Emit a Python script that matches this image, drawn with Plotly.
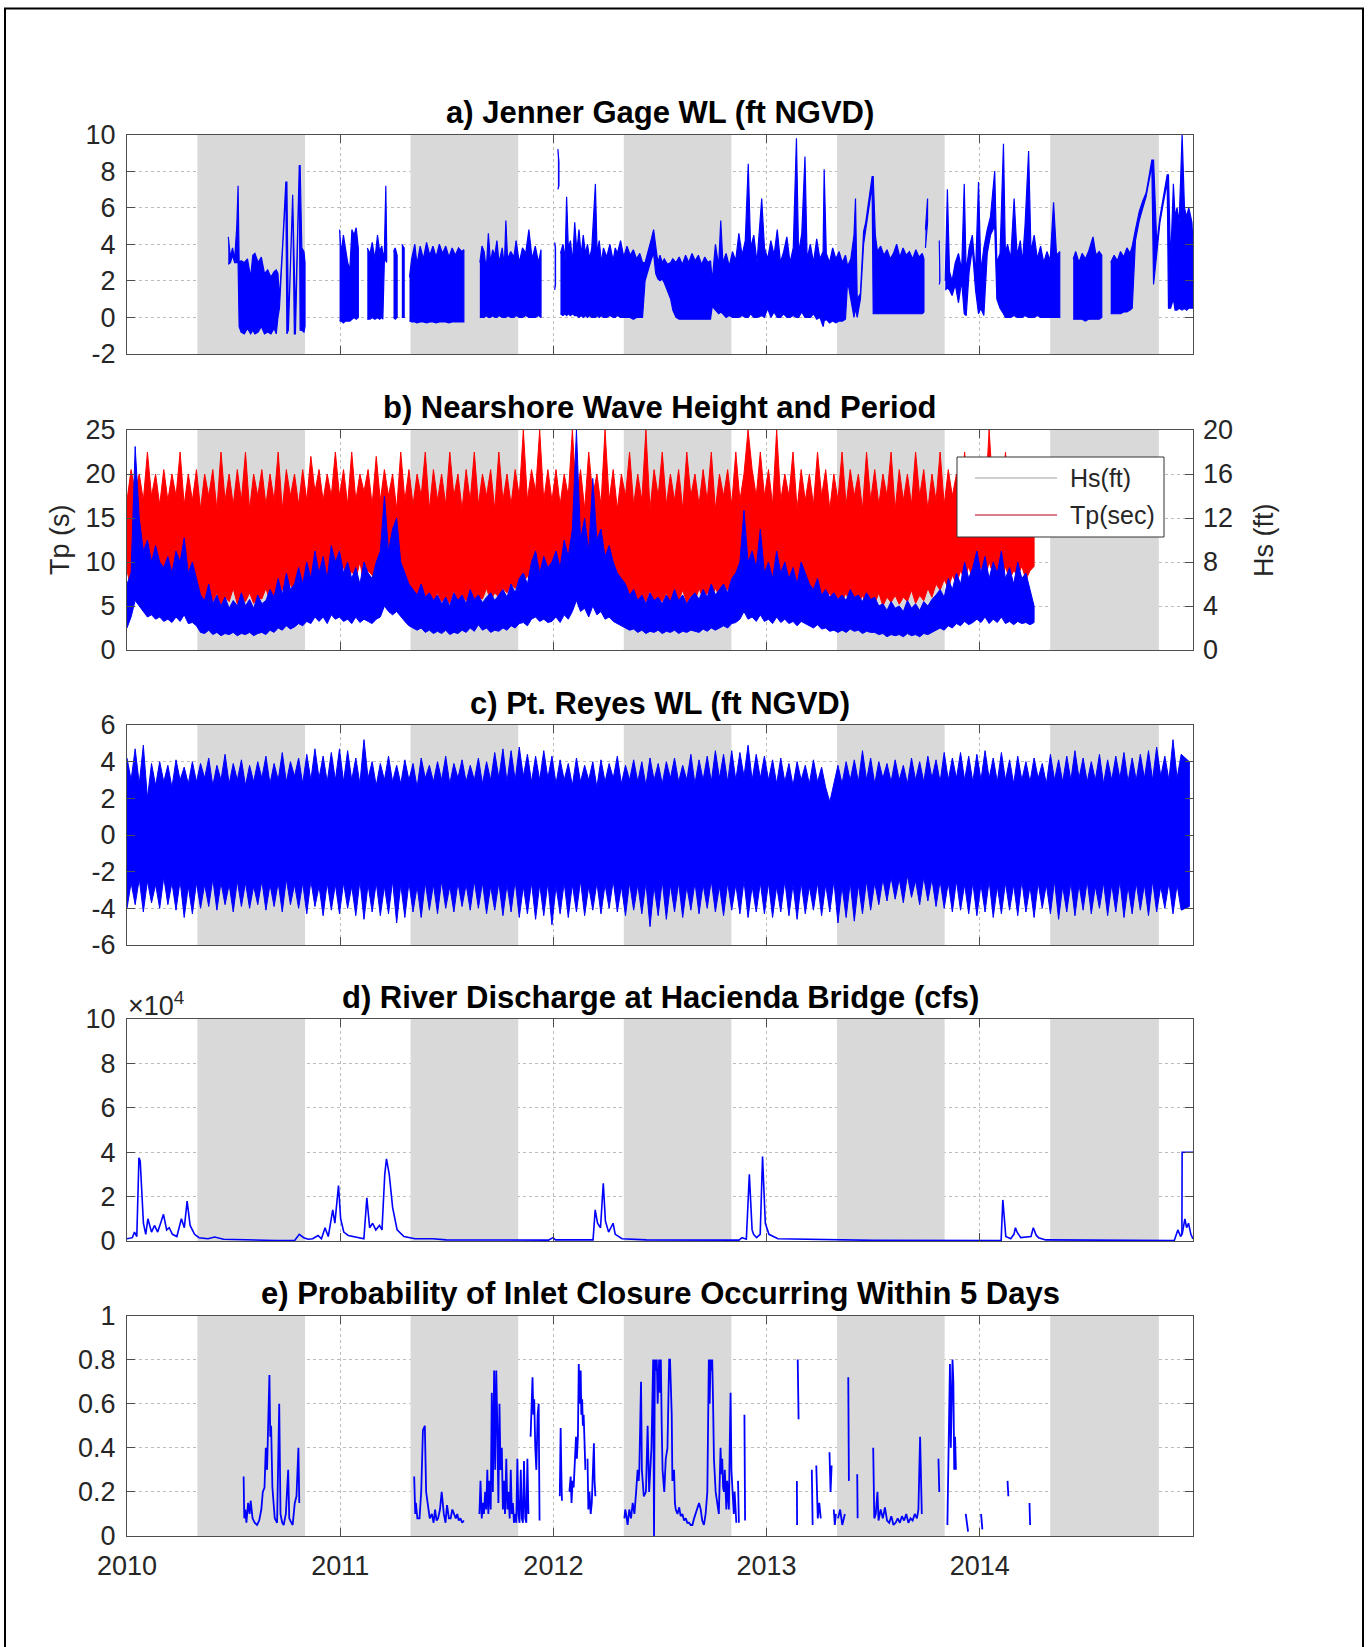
import plotly.graph_objects as go

# ======================= DATA =======================
YEAR_TICKS = [2010, 2011, 2012, 2013, 2014]
YEAR_LABELS = ["2010", "2011", "2012", "2013", "2014"]
DRY_START = [2010.33, 2011.33, 2012.33, 2013.33, 2014.33]
DRY_END = [2010.835, 2011.835, 2012.835, 2013.835, 2014.84]

# a) Jenner gage water level: (decimal year, upper, lower), None = data gap
JENNER_2010 = [
    (2010.475, 4.4, 2.9), (2010.485, 3.3, 3.0), (2010.495, 3.8, 3.4), (2010.505, 3.2, 3.0),
    (2010.515, 5.0, 3.0), (2010.521, 7.2, 3.0), (2010.526, 3.0, -0.5), (2010.535, 3.1, -0.8),
    (2010.550, 3.0, -0.9), (2010.565, 3.2, -0.6), (2010.580, 2.2, -0.9), (2010.590, 3.4, -0.7),
    (2010.600, 3.5, -0.9), (2010.615, 3.0, -0.8), (2010.630, 3.3, -0.5), (2010.645, 2.4, -0.9),
    (2010.660, 2.6, -0.8), (2010.675, 2.2, -0.9), (2010.690, 2.5, -0.6), (2010.700, 2.6, -0.9),
    (2010.708, 2.4, 0.0), (2010.715, 1.0, 0.5), (2010.730, 4.0, 3.8), (2010.745, 7.4, 7.0),
    (2010.750, 7.4, -0.9), (2010.757, -0.5, -0.7), (2010.777, 6.7, 6.5), (2010.785, 2.0, -0.9),
    (2010.790, 0.0, -0.9), (2010.808, 8.3, 8.0), (2010.812, 8.3, -0.7), (2010.820, 3.8, -0.7),
    (2010.830, 3.6, -0.8), (2010.835, 3.0, -0.5),
]
JENNER_2011 = [
    (2010.997, 4.8, -0.2), (2011.005, 3.5, -0.2), (2011.015, 4.5, -0.3), (2011.025, 3.6, -0.2),
    (2011.035, 3.0, -0.2), (2011.045, 2.6, -0.2), (2011.055, 4.8, -0.1), (2011.065, 4.5, 0.0),
    (2011.075, 4.9, -0.1), (2011.085, 3.8, 0.0), None,
    (2011.127, 3.8, -0.1), (2011.140, 3.5, -0.1), (2011.150, 4.1, 0.0), (2011.163, 3.2, -0.1),
    (2011.175, 4.5, 0.0), (2011.185, 3.6, -0.1), (2011.195, 3.9, 0.0), (2011.200, 3.5, -0.1),
    (2011.207, 3.5, 3.0), (2011.214, 7.2, 3.2), (2011.218, 3.8, 3.0), None,
    (2011.250, 3.6, 0.0), (2011.258, 3.8, -0.1), (2011.267, 3.4, 0.0), None,
    (2011.289, 4.0, 0.0), (2011.300, 3.8, 0.0), None,
    (2011.325, 2.2, -0.2), (2011.335, 3.2, -0.25), (2011.350, 4.0, -0.25), (2011.360, 2.9, -0.3),
    (2011.375, 3.9, -0.25), (2011.390, 3.2, -0.25), (2011.405, 4.1, -0.3), (2011.420, 3.4, -0.25),
    (2011.435, 3.9, -0.25), (2011.450, 3.3, -0.3), (2011.465, 4.0, -0.25), (2011.480, 3.5, -0.25),
    (2011.495, 3.9, -0.25), (2011.510, 3.3, -0.3), (2011.525, 3.8, -0.25), (2011.540, 3.4, -0.25),
    (2011.555, 3.8, -0.25), (2011.570, 3.6, -0.25), (2011.580, 3.7, -0.25), None,
    (2011.655, 3.0, 0.0), (2011.665, 3.9, 0.0), (2011.675, 3.6, 0.0), (2011.685, 2.6, 0.1),
    (2011.695, 4.6, 0.0), (2011.705, 3.0, 0.0), (2011.715, 3.7, 0.1), (2011.725, 3.4, 0.0),
    (2011.735, 4.2, 0.0), (2011.745, 3.0, 0.1), (2011.760, 3.8, 0.0), (2011.770, 2.8, 0.0),
    (2011.777, 5.3, 0.0), (2011.785, 3.2, 0.1), (2011.800, 3.6, 0.0), (2011.815, 3.3, 0.0),
    (2011.825, 4.2, 0.1), (2011.840, 3.0, 0.0), (2011.855, 3.8, 0.0), (2011.870, 3.5, 0.1),
    (2011.885, 4.8, 0.0), (2011.900, 3.2, 0.0), (2011.915, 3.9, 0.0), (2011.930, 3.0, 0.1),
    (2011.942, 3.7, 0.0), None,
]
JENNER_2012 = [
    (2012.006, 4.1, 1.5), (2012.010, 3.8, 1.8), None,
    (2012.021, 9.2, 7.0), (2012.026, 8.5, 7.2), None,
    (2012.033, 3.5, 0.2), (2012.045, 4.0, 0.1), (2012.055, 3.2, 0.2), (2012.062, 6.6, 0.1),
    (2012.070, 3.8, 0.2), (2012.080, 4.2, 0.1), (2012.090, 3.0, 0.2), (2012.100, 5.2, 0.1),
    (2012.110, 3.6, 0.1), (2012.120, 4.8, 0.0), (2012.130, 3.4, 0.1), (2012.140, 4.5, 0.0),
    (2012.150, 3.5, 0.1), (2012.160, 4.0, 0.0), (2012.170, 3.2, 0.1), (2012.180, 3.8, 0.0),
    (2012.197, 7.3, 0.0), (2012.205, 3.5, 0.1), (2012.215, 4.2, 0.0), (2012.225, 3.0, 0.1),
    (2012.235, 3.8, 0.0), (2012.250, 3.3, 0.0), (2012.265, 4.0, 0.1), (2012.280, 3.1, 0.0),
    (2012.290, 3.8, 0.0), (2012.300, 3.5, 0.1), (2012.315, 4.2, 0.0), (2012.330, 3.3, 0.0),
    (2012.345, 3.9, 0.0), (2012.360, 3.4, 0.0), (2012.375, 3.7, -0.1), (2012.390, 3.2, 0.0),
    (2012.405, 3.5, 0.0), (2012.418, 3.0, 0.0), (2012.430, 3.0, 2.0), (2012.445, 3.6, 2.6),
    (2012.460, 4.3, 3.2), (2012.470, 4.8, 3.5), (2012.480, 3.8, 2.4), (2012.490, 3.0, 2.1),
    (2012.500, 3.4, 2.0), (2012.510, 3.0, 2.1), (2012.520, 3.2, 1.9), (2012.535, 2.9, 1.5),
    (2012.550, 3.0, 1.0), (2012.560, 3.2, 0.4), (2012.575, 3.0, 0.0), (2012.590, 3.3, -0.1),
    (2012.605, 2.9, -0.1), (2012.620, 3.4, -0.1), (2012.635, 3.0, -0.1), (2012.650, 3.5, -0.1),
    (2012.665, 3.1, -0.1), (2012.680, 3.4, -0.1), (2012.695, 2.9, -0.1), (2012.710, 3.3, -0.1),
    (2012.725, 3.0, -0.1), (2012.737, 3.1, -0.1), (2012.745, 2.0, 0.6), (2012.760, 4.0, 0.4),
    (2012.775, 2.8, 0.2), (2012.785, 5.3, 0.3), (2012.795, 3.0, 0.2), (2012.810, 3.5, 0.0),
    (2012.825, 2.8, 0.1), (2012.840, 3.6, 0.0), (2012.855, 3.1, 0.0), (2012.870, 4.6, 0.0),
    (2012.885, 3.4, 0.1), (2012.900, 4.2, 0.0), (2012.914, 8.4, 0.0), (2012.925, 3.8, 0.2),
    (2012.940, 4.5, 0.0), (2012.955, 3.0, 0.0), (2012.977, 6.5, 0.1), (2012.990, 3.8, 0.0),
]
JENNER_2013 = [
    (2013.005, 3.2, 0.5), (2013.020, 4.2, 0.0), (2013.035, 3.4, 0.3), (2013.050, 4.8, 0.0),
    (2013.065, 3.0, 0.0), (2013.080, 3.6, 0.2), (2013.095, 4.4, 0.0), (2013.110, 3.0, 0.0),
    (2013.125, 3.8, 0.1), (2013.140, 9.8, 0.0), (2013.150, 3.5, 0.0), (2013.165, 4.6, 0.3),
    (2013.180, 8.8, 0.0), (2013.190, 3.2, 0.0), (2013.205, 4.0, 0.0), (2013.220, 3.0, 0.2),
    (2013.235, 4.3, -0.1), (2013.250, 3.2, 0.0), (2013.265, 3.6, -0.5), (2013.270, 8.1, -0.2),
    (2013.280, 3.5, -0.1), (2013.295, 3.0, -0.3), (2013.310, 3.8, -0.2), (2013.325, 3.2, -0.3),
    (2013.340, 3.6, -0.2), (2013.355, 3.0, -0.2), (2013.370, 3.4, -0.1), (2013.380, 2.8, 2.0),
    (2013.395, 3.2, 1.0), (2013.410, 4.5, 0.0), (2013.417, 6.5, 0.5), (2013.425, 1.0, 0.0),
    (2013.440, 1.3, 1.0), (2013.455, 4.7, 4.0), (2013.465, 5.2, 4.8), (2013.480, 6.5, 6.0),
    (2013.495, 7.7, 7.2), (2013.500, 7.7, 0.2), (2013.510, 4.5, 0.2), (2013.520, 3.6, 0.2),
    (2013.535, 3.9, 0.2), (2013.550, 3.4, 0.2), (2013.565, 3.7, 0.2), (2013.580, 3.2, 0.2),
    (2013.595, 3.5, 0.2), (2013.610, 4.0, 0.2), (2013.625, 3.3, 0.2), (2013.640, 3.8, 0.2),
    (2013.655, 3.4, 0.2), (2013.670, 3.6, 0.2), (2013.685, 3.2, 0.2), (2013.700, 3.7, 0.2),
    (2013.715, 3.3, 0.2), (2013.730, 3.5, 0.2), (2013.738, 3.2, 0.3), None,
    (2013.745, 4.8, 3.8), (2013.755, 6.5, 5.2), None,
    (2013.810, 4.2, 1.8), (2013.813, 3.0, 2.0), None,
    (2013.838, 2.0, 1.5), (2013.848, 7.0, 1.6), (2013.858, 2.5, 1.5), (2013.870, 2.0, 1.2),
    (2013.885, 3.0, 1.8), (2013.900, 3.5, 0.8), (2013.915, 2.6, 2.0), (2013.927, 7.3, 0.2),
    (2013.936, 2.5, 0.1), (2013.950, 3.8, 2.5), (2013.965, 4.5, 3.8), (2013.980, 2.4, 1.5),
    (2013.994, 7.4, 0.2),
]
JENNER_2014 = [
    (2014.005, 2.5, 0.5), (2014.019, 3.8, 0.1), (2014.035, 4.8, 3.5), (2014.050, 5.5, 4.5),
    (2014.070, 8.0, 5.0), (2014.080, 3.0, 1.0), (2014.095, 3.5, 0.5), (2014.111, 9.5, 0.2),
    (2014.120, 3.5, 0.0), (2014.130, 4.0, 0.0), (2014.145, 3.2, 0.0), (2014.161, 6.5, 0.1),
    (2014.175, 3.4, 0.0), (2014.190, 4.2, 0.0), (2014.200, 3.0, 0.0), (2014.212, 5.0, 0.1),
    (2014.229, 9.1, 0.0), (2014.240, 3.6, 0.0), (2014.255, 4.5, 0.0), (2014.270, 3.2, 0.1),
    (2014.285, 3.9, 0.0), (2014.300, 3.0, 0.0), (2014.315, 3.6, 0.0), (2014.330, 3.1, 0.0),
    (2014.346, 6.3, 0.0), (2014.360, 3.4, 0.0), (2014.375, 3.6, 0.0), None,
    (2014.438, 3.2, -0.1), (2014.450, 3.6, -0.1), (2014.465, 3.0, -0.1), (2014.480, 3.5, -0.1),
    (2014.495, 3.2, -0.2), (2014.510, 3.6, -0.1), (2014.531, 4.4, -0.1), (2014.545, 3.4, -0.1),
    (2014.560, 3.6, -0.1), (2014.572, 3.4, 0.0), None,
    (2014.614, 3.0, 0.2), (2014.630, 3.4, 0.2), (2014.645, 3.1, 0.2), (2014.660, 3.6, 0.2),
    (2014.675, 3.3, 0.3), (2014.690, 3.8, 0.3), (2014.705, 3.5, 0.4), (2014.715, 3.9, 0.5),
    (2014.730, 4.8, 4.2), (2014.748, 5.8, 5.3), (2014.765, 6.4, 6.0), (2014.780, 6.8, 6.6),
    (2014.795, 7.8, 7.5), (2014.807, 8.6, 8.3), (2014.815, 8.6, 1.8), (2014.830, 4.0, 3.5),
    (2014.845, 5.5, 5.2), (2014.860, 6.5, 6.2), (2014.879, 7.8, 7.4), (2014.885, 7.8, 0.5),
    (2014.895, 3.0, 0.5), (2014.908, 7.3, 1.0), (2014.916, 5.5, 0.4), (2014.925, 6.0, 0.4),
    (2014.935, 5.2, 0.5), (2014.949, 10.0, 0.4), (2014.960, 6.0, 0.5), (2014.970, 5.5, 0.4),
    (2014.980, 6.0, 0.5), (2014.995, 5.2, 0.5), (2015.000, 4.0, 0.5),
]

# b) nearshore waves, weekly envelopes from 2010-01-01 (Tp in s, Hs in ft)
TP_HI = [17,20.5,18,20,17,22.5,17.5,20,16.5,20.5,17,20,17.5,22.5,16.5,20,17,20.5,16,20,17.5,20.5,16,22.5,17,20,16.5,20.5,17,22.5,16,20,17.5,20.5,16.5,20,17,22.5,16,20.5,17.5,20,16.5,20.5,17,22,18,20.5,17,20,17.5,22.5,
         17.5,20.5,16.5,22.5,17,20,18,20.5,16.5,22,17,20.5,17.5,20,16,22.5,17,20.5,16.5,20,17.5,22.5,16,20.5,17,20,16.5,22.5,17.5,20,16,20.5,17,22.5,16.5,20,17.5,20.5,16,22.5,17,20,16.5,20.5,17.5,25,17,20.5,18,25,17,20.5,
         17,20.5,16.5,20,17.5,25,17,20.5,16,22.5,17.5,20,16.5,25,17,20.5,16,20,17.5,22.5,16.5,20,17,25,16,20.5,17.5,22.5,16.5,20,17,20.5,16,22.5,17.5,20,16.5,20.5,17,22.5,16,20,17.5,20.5,16.5,22.5,17,20,25,20.5,17.5,22.5,
         17.5,20.5,16.5,25,17,20,17.5,22.5,16,20.5,17,20,16.5,22.5,17.5,20.5,16,20,17,22.5,16.5,20.5,17.5,20,16,22.5,17,20.5,16.5,20,17.5,22.5,16,20.5,17,20,16.5,22.5,17.5,20.5,16,20,17,22.5,16.5,20.5,17.5,20,16,22.5,17,20.5,
         17,20.5,16.5,25,17.5,20,16,22.5,17,20.5,16.5,20,17.5,20.5,17]
TP_LO = [9,7,10,8,9.5,7.5,8,9,7,8.5,6.5,8,7,9,6.5,8,7,6,6,5.5,7,5.5,6.5,5.2,6,5.5,7,5.2,6,5.5,6.5,5.3,6,5.8,7,5.5,6.2,5.6,7,6,7.5,6.5,8,7,8,7,9,7.5,8.5,7,9,8,
         8,9.5,7.5,9,8,10,7.5,9,8.5,7,9,8,9.5,7,8.5,7.5,6.5,7,6,5.5,6.5,5.5,6,5.2,6.5,5.5,6,5.3,6.8,5.5,6.2,5.6,6.5,5.4,6,5.8,7,5.6,6.5,6,7,6.5,7.5,7,8,7.5,8.5,7,9,8,9.5,8,
         8,9,7.5,9.5,8,10,7.5,9,8.5,9.5,8,10,7.5,9,8,7,6.5,7,6,5.5,6.5,5.2,6,5.5,6.8,5.3,6,5.5,6.5,5.2,6,5.6,6.8,5.4,6.2,5.5,7,5.8,6.5,6,7,6.2,7.5,6.8,8,7,8.5,7.5,9,8,9.5,8,
         8,9.5,7.5,9,8,9.5,7.5,8.5,7,8,6.5,7.5,6,7,6,5.5,6.5,5.2,6,5.5,6.5,5,6,5.3,6.2,5,5.8,5.2,6.5,5,6,5.4,6.2,5.2,6,5.5,6.8,5.3,6.2,5.6,7,6,7.5,6.8,8,7,8.5,7.5,9,8,9.5,8,
         8.5,9.5,8,10,8.5,9,7.5,9.5,8,9,8.5,9.5,8,9,9.5]
HS_HI = [6,7,18.5,12,9,10,8,9.5,8,7.5,8.5,7,9,8,10.2,7,8,6.5,5,4.5,6,4.2,5,4,4.8,3.8,4.5,4,5.2,4,4.6,3.8,5,4.2,4.5,5.5,4.8,6.5,5,7,5.5,6,7.5,6,8,6.5,9,7,8.5,6.5,9.5,8,
         9,7,8,6.5,7.5,6,8,7,6.5,8,9,14,9,11,12,8,7,6,5.5,5,6,4.8,5.2,4.5,5,4.2,4.8,4,5.2,4.5,5,4.2,5.5,4.6,5,4.3,4.8,5.2,4.5,5,5.5,4.8,6,5.2,6.5,7,6,8,9,7,8.5,7.5,
         8,9,7.5,10,8.5,11,20,10,12,9,15.6,10,11,8.5,9.5,8,7,6.5,6,5,5.5,4.5,5,4.2,5.2,4.5,4.8,4.2,5,4.4,5.5,4.5,5,4.2,4.8,5.2,4.6,5.5,4.8,6,5,5.5,6,5.2,6.5,7,8,12.7,8,9,7.5,11,
         7,8,6.5,9,7,8,6.5,7.5,6,8,7,6,5.5,6.5,5,5.5,4.8,5.2,4.6,5,4.5,5.5,4.8,5,4.4,5.2,4.6,4.8,4,4.2,3.6,4.4,3.8,4,3.5,4.5,3.8,4.2,3.6,4.4,4,4.6,5,5.5,4.8,6.5,5.5,7,6,8,6.5,7.5,
         9,7,8.5,6.5,8,7,9,6.5,7.5,6,8,6.5,7,5.5,4]
HS_LO = [2,3,4.5,4,3.5,3,3.2,2.8,3,2.6,2.8,2.5,3,2.6,3.2,2.4,2.5,2.2,1.6,1.5,1.8,1.4,1.6,1.3,1.5,1.4,1.6,1.3,1.5,1.4,1.6,1.3,1.5,1.6,1.4,1.8,1.6,2,1.8,2.2,1.9,2.1,2.4,2.2,2.6,2.4,3,2.6,3,2.4,3.2,2.8,
         3,2.6,2.8,2.4,3,2.5,2.8,2.6,2.4,2.8,3,4,3.5,3.2,3.5,3,2.6,2.2,2,1.8,2,1.6,1.8,1.5,1.7,1.5,1.8,1.4,1.6,1.5,1.8,1.6,2,1.7,2.3,1.8,2,1.6,1.8,1.7,2,1.8,2.2,2,2.4,2.5,2.2,2.8,3,2.6,2.8,2.5,
         2.6,3,2.5,3.2,2.8,3.5,4.5,3.5,3.8,3,4,3.2,3.5,2.8,3,2.6,2.4,2.2,2,1.8,1.9,1.6,1.8,1.5,1.7,1.6,1.8,1.5,1.7,1.6,1.8,1.5,1.7,1.6,1.8,1.7,1.6,1.9,1.7,2,1.8,2,2.2,2,2.4,2.5,2.8,3.5,2.8,3,2.6,3.2,
         2.6,2.8,2.4,3,2.5,2.8,2.4,2.6,2.2,2.6,2.4,2.2,2,2.3,1.9,2,1.7,1.8,1.6,1.8,1.6,1.9,1.7,1.8,1.5,1.7,1.6,1.6,1.4,1.5,1.2,1.4,1.3,1.4,1.2,1.5,1.3,1.4,1.2,1.5,1.4,1.6,1.8,2,1.8,2.2,2,2.4,2.2,2.6,2.3,2.5,
         2.8,2.5,3,2.4,2.8,2.5,3,2.4,2.6,2.3,2.6,2.4,2.5,2.3,2.5]

# c) Pt. Reyes water level, weekly upper / lower envelopes from 2010-01-01 (ft)
REYES_HI = [4.2,3.0,4.7,2.8,4.9,2.0,3.9,2.7,4.0,2.9,3.8,2.6,4.1,3.0,3.7,2.8,4.0,2.9,3.9,3.1,4.2,2.7,3.8,3.0,4.4,2.8,3.9,3.0,4.1,2.7,3.8,2.9,4.0,3.1,4.3,2.8,3.9,3.0,4.5,2.9,4.0,3.2,4.2,2.8,4.4,3.0,4.7,3.1,4.3,2.9,4.5,3.0,
            4.7,2.9,4.6,3.0,4.2,2.8,5.2,3.1,4.0,2.7,3.9,3.0,4.3,2.9,3.8,2.8,4.1,3.0,3.9,2.6,4.2,3.1,3.8,2.9,4.0,3.0,4.3,2.8,3.9,3.1,4.1,2.9,3.8,3.0,4.2,2.8,4.0,3.0,4.5,3.1,4.7,2.9,4.6,3.0,4.8,3.2,4.4,2.9,4.3,3.0,4.6,3.1,
            4.3,2.8,4.1,3.0,3.9,2.7,4.2,2.9,3.8,3.0,4.0,2.6,4.1,2.9,3.9,3.1,4.3,2.8,3.8,3.0,4.1,2.9,4.0,2.7,4.2,3.0,3.9,2.8,4.0,3.1,4.2,2.9,3.8,3.0,4.4,2.8,4.1,3.0,4.3,2.9,4.6,3.1,4.4,2.9,4.6,3.0,4.5,3.2,4.9,3.0,4.4,3.1,
            4.3,3.0,4.1,2.8,4.2,2.9,3.9,2.7,4.0,3.0,3.8,2.8,4.1,2.9,3.7,2.6,1.8,2.9,3.8,2.8,4.0,3.0,4.1,2.9,4.6,3.0,4.2,2.8,4.0,3.1,3.9,2.9,4.1,3.0,3.8,2.8,4.2,3.0,4.0,2.9,4.3,3.1,4.1,2.9,4.5,3.0,4.2,3.1,4.5,3.0,4.3,2.9,
            4.4,3.0,4.6,3.1,4.2,2.9,4.5,3.0,4.1,2.8,4.3,3.0,4.0,2.9,4.2,3.1,3.9,2.8,4.4,3.0,4.1,2.9,4.3,3.0,4.6,3.1,4.2,2.9,4.0,3.0,4.4,2.8,4.1,3.0,4.3,3.1,4.5,2.9,4.2,3.0,4.4,3.1,4.6,3.0,4.8,3.2,4.3,3.0,5.2,3.1,4.4,4.2,4.0]
REYES_LO = [-4.0,-2.6,-3.8,-2.4,-4.2,-2.5,-3.7,-2.7,-4.0,-2.3,-3.8,-2.6,-4.1,-2.5,-4.5,-2.8,-4.3,-2.6,-4.0,-2.7,-3.9,-2.4,-4.1,-2.6,-3.8,-2.7,-4.2,-2.5,-3.9,-2.6,-4.0,-2.8,-3.8,-2.5,-4.1,-2.7,-3.9,-2.6,-4.2,-2.4,-3.8,-2.7,-4.0,-2.6,-4.3,-2.5,-3.9,-2.8,-4.4,-2.6,-4.1,-2.7,
            -4.3,-2.6,-4.0,-2.8,-4.4,-2.5,-4.6,-2.7,-4.2,-2.6,-4.4,-2.8,-4.3,-2.5,-4.8,-2.7,-4.5,-2.6,-4.2,-2.8,-4.5,-2.6,-4.1,-2.7,-4.3,-2.5,-4.0,-2.8,-4.2,-2.6,-3.9,-2.7,-4.1,-2.5,-4.0,-2.6,-4.3,-2.8,-4.1,-2.6,-4.4,-2.7,-4.2,-2.5,-4.5,-2.8,-4.3,-2.6,-4.6,-2.7,-4.4,-2.6,
            -4.9,-2.8,-4.3,-2.6,-4.5,-2.7,-4.2,-2.5,-4.4,-2.8,-4.1,-2.6,-4.3,-2.7,-4.0,-2.5,-4.2,-2.8,-4.4,-2.6,-4.1,-2.7,-4.3,-2.6,-5.0,-2.8,-4.4,-2.5,-4.6,-2.7,-4.2,-2.6,-4.5,-2.8,-4.1,-2.6,-4.3,-2.7,-4.0,-2.5,-4.2,-2.8,-4.4,-2.6,-4.1,-2.7,-4.3,-2.5,-4.5,-2.8,-4.2,-2.6,
            -4.3,-2.6,-4.5,-2.8,-4.2,-2.5,-4.4,-2.7,-4.6,-2.6,-4.3,-2.8,-4.1,-2.6,-4.4,-2.7,-4.2,-2.5,-4.8,-2.8,-4.5,-2.6,-4.7,-2.7,-4.3,-2.5,-4.1,-2.6,-3.8,-2.4,-3.6,-2.3,-3.5,-2.4,-3.7,-2.2,-3.4,-2.5,-3.8,-2.3,-3.6,-2.4,-3.9,-2.5,-4.0,-2.6,-4.2,-2.5,-4.1,-2.7,-4.3,-2.6,
            -4.4,-2.7,-4.2,-2.5,-4.5,-2.8,-4.3,-2.6,-4.1,-2.7,-4.4,-2.5,-4.2,-2.8,-4.5,-2.6,-4.0,-2.7,-4.3,-2.5,-4.6,-2.8,-4.2,-2.6,-4.4,-2.7,-4.1,-2.5,-4.3,-2.8,-4.0,-2.6,-4.4,-2.7,-4.2,-2.5,-4.5,-2.8,-4.3,-2.6,-4.1,-2.7,-4.4,-2.5,-4.2,-2.8,-4.0,-2.6,-4.3,-2.7,-4.1,-4.0,-3.9]

# d) River discharge at Hacienda Bridge: (decimal year, cfs), None = break
DISCHARGE = [
    (2010.000, 1000), (2010.025, 1500), (2010.035, 4000), (2010.046, 2000), (2010.056, 37500),
    (2010.062, 36000), (2010.077, 8000), (2010.088, 3000), (2010.098, 10000), (2010.115, 4000),
    (2010.129, 7000), (2010.144, 4000), (2010.161, 9000), (2010.171, 12000), (2010.186, 5000),
    (2010.198, 6000), (2010.213, 3000), (2010.234, 2000), (2010.255, 10000), (2010.269, 6000),
    (2010.282, 18000), (2010.296, 7000), (2010.317, 3000), (2010.338, 1500), (2010.380, 1000),
    (2010.411, 1800), (2010.453, 800), (2010.578, 350), (2010.700, 250), (2010.787, 300),
    (2010.808, 3000), (2010.829, 1500), (2010.850, 800), (2010.871, 1000), (2010.896, 2500),
    (2010.912, 1000), (2010.929, 6000), (2010.944, 2000), (2010.965, 14000), (2010.975, 8000),
    (2010.992, 25000), (2011.002, 10000), (2011.017, 4000), (2011.038, 2500), (2011.079, 1500),
    (2011.111, 1000), (2011.125, 19500), (2011.138, 6000), (2011.152, 8000), (2011.167, 5000),
    (2011.184, 7000), (2011.196, 5000), (2011.209, 30000), (2011.217, 37000), (2011.230, 30000),
    (2011.246, 15000), (2011.267, 5000), (2011.299, 2000), (2011.351, 1000), (2011.434, 1000),
    (2011.497, 500), (2011.750, 300), (2011.977, 400), (2011.998, 1500), (2012.010, 500),
    (2012.186, 500), (2012.196, 14000), (2012.207, 8000), (2012.221, 6000), (2012.234, 26000),
    (2012.244, 9000), (2012.259, 4000), (2012.280, 8000), (2012.290, 3000), (2012.322, 1000),
    (2012.436, 500), (2012.700, 300), (2012.870, 400), (2012.885, 1500), (2012.905, 800),
    (2012.919, 30000), (2012.932, 5000), (2012.939, 3000), (2012.953, 1500), (2012.970, 3000),
    (2012.981, 38000), (2012.994, 8000), (2013.011, 3000), (2013.053, 1000), (2013.170, 800),
    (2013.271, 600), (2013.500, 300), (2014.100, 200), (2014.108, 18500), (2014.122, 2000),
    (2014.145, 1000), (2014.160, 3000), (2014.167, 6000), (2014.175, 4000), (2014.192, 1500),
    (2014.240, 2000), (2014.251, 6000), (2014.265, 2500), (2014.276, 1500), (2014.309, 500),
    (2014.600, 200), (2014.912, 200), (2014.929, 5000), (2014.942, 2000), (2014.948, 3000),
    (2014.949, 40000), (2015.000, 40000), None,
    (2014.949, 3000), (2014.962, 10000), (2014.970, 6000), (2014.979, 8000), (2014.990, 3000),
    (2015.000, 1000),
]

# e) probability of inlet closure within 5 days: (decimal year, p), None = gap
PROB_2010 = [
    (2010.547, 0.27), (2010.550, 0.08), (2010.555, 0.12), (2010.560, 0.06), (2010.568, 0.15),
    (2010.575, 0.10), (2010.580, 0.16), (2010.589, 0.08), (2010.599, 0.06), (2010.610, 0.05),
    (2010.620, 0.07), (2010.630, 0.12), (2010.637, 0.20), (2010.645, 0.22), (2010.651, 0.40),
    (2010.657, 0.30), (2010.662, 0.50), (2010.668, 0.73), (2010.672, 0.45), (2010.676, 0.50),
    (2010.682, 0.22), (2010.687, 0.15), (2010.693, 0.08), (2010.704, 0.06), (2010.714, 0.60),
    (2010.720, 0.10), (2010.728, 0.06), (2010.735, 0.05), (2010.745, 0.10), (2010.756, 0.30),
    (2010.761, 0.08), (2010.766, 0.07), (2010.777, 0.05), (2010.787, 0.15), (2010.795, 0.18),
    (2010.804, 0.40), (2010.808, 0.15), None,
]
PROB_2011 = [
    (2011.347, 0.27), (2011.352, 0.10), (2011.355, 0.15), (2011.362, 0.08), (2011.372, 0.08),
    (2011.380, 0.20), (2011.388, 0.48), (2011.397, 0.50), (2011.403, 0.20), (2011.413, 0.12),
    (2011.420, 0.08), (2011.430, 0.10), (2011.438, 0.06), (2011.445, 0.12), (2011.452, 0.07),
    (2011.459, 0.08), (2011.468, 0.12), (2011.476, 0.20), (2011.486, 0.10), (2011.494, 0.06),
    (2011.501, 0.14), (2011.510, 0.08), (2011.518, 0.08), (2011.526, 0.12), (2011.534, 0.10),
    (2011.542, 0.08), (2011.549, 0.10), (2011.556, 0.07), (2011.564, 0.08), (2011.572, 0.06),
    (2011.580, 0.07), None,
    (2011.653, 0.10), (2011.658, 0.25), (2011.664, 0.08), (2011.669, 0.15), (2011.674, 0.10),
    (2011.680, 0.20), (2011.685, 0.12), (2011.690, 0.30), (2011.695, 0.10), (2011.700, 0.25),
    (2011.706, 0.12), (2011.711, 0.65), (2011.716, 0.20), (2011.722, 0.75), (2011.727, 0.30),
    (2011.732, 0.75), (2011.737, 0.50), (2011.742, 0.15), (2011.747, 0.60), (2011.752, 0.30),
    (2011.758, 0.40), (2011.763, 0.12), (2011.768, 0.25), (2011.773, 0.10), (2011.779, 0.35),
    (2011.784, 0.12), (2011.789, 0.20), (2011.795, 0.08), (2011.800, 0.30), (2011.805, 0.10),
    (2011.810, 0.15), (2011.815, 0.06), (2011.820, 0.10), (2011.826, 0.06), (2011.831, 0.35),
    (2011.836, 0.10), (2011.841, 0.06), (2011.847, 0.30), (2011.852, 0.08), (2011.857, 0.06),
    (2011.862, 0.34), (2011.868, 0.08), (2011.873, 0.06), (2011.878, 0.35), (2011.883, 0.10), None,
    (2011.893, 0.45), (2011.897, 0.60), (2011.902, 0.72), (2011.906, 0.55), (2011.910, 0.62),
    (2011.915, 0.40), (2011.920, 0.30), (2011.926, 0.55), (2011.931, 0.60), (2011.935, 0.07), None,
]
PROB_2012 = [
    (2012.030, 0.18), (2012.034, 0.49), (2012.037, 0.30), (2012.040, 0.16), None,
    (2012.075, 0.20), (2012.081, 0.27), (2012.085, 0.15), (2012.090, 0.25), (2012.095, 0.22),
    (2012.100, 0.30), (2012.106, 0.45), (2012.110, 0.35), (2012.115, 0.45), (2012.119, 0.78),
    (2012.123, 0.60), (2012.128, 0.75), (2012.131, 0.55), (2012.135, 0.62), (2012.138, 0.50),
    (2012.142, 0.55), (2012.146, 0.40), (2012.150, 0.30), None,
    (2012.160, 0.35), (2012.164, 0.12), (2012.169, 0.20), (2012.175, 0.10), (2012.180, 0.15),
    (2012.185, 0.30), (2012.190, 0.42), (2012.193, 0.25), (2012.197, 0.18), None,
    (2012.333, 0.08), (2012.337, 0.12), (2012.341, 0.10), (2012.348, 0.05), (2012.356, 0.12),
    (2012.364, 0.08), (2012.372, 0.15), (2012.380, 0.10), (2012.388, 0.20), (2012.395, 0.30),
    (2012.400, 0.25), (2012.403, 0.30), (2012.411, 0.70), (2012.415, 0.30), (2012.424, 0.18),
    (2012.434, 0.20), (2012.442, 0.50), (2012.449, 0.20), (2012.460, 0.40), (2012.468, 0.80),
    (2012.472, 0.00), (2012.476, 0.80), (2012.481, 0.75), (2012.485, 0.80), (2012.489, 0.60),
    (2012.493, 0.78), (2012.496, 0.80), (2012.500, 0.65), (2012.504, 0.80), (2012.508, 0.50),
    (2012.512, 0.30), (2012.520, 0.20), (2012.527, 0.35), (2012.535, 0.40), (2012.543, 0.80),
    (2012.547, 0.80), (2012.551, 0.70), (2012.555, 0.55), (2012.558, 0.25), (2012.566, 0.30),
    (2012.570, 0.15), (2012.574, 0.12), (2012.582, 0.10), (2012.590, 0.13), (2012.597, 0.09),
    (2012.605, 0.10), (2012.613, 0.07), (2012.621, 0.08), (2012.628, 0.06), (2012.636, 0.06),
    (2012.644, 0.05), (2012.652, 0.05), (2012.660, 0.08), (2012.667, 0.10), (2012.675, 0.12),
    (2012.683, 0.15), (2012.691, 0.12), (2012.698, 0.07), (2012.706, 0.05), (2012.714, 0.10),
    (2012.722, 0.20), (2012.729, 0.80), (2012.733, 0.60), (2012.737, 0.80), (2012.741, 0.75),
    (2012.745, 0.80), (2012.749, 0.60), (2012.753, 0.35), (2012.761, 0.20), (2012.768, 0.15),
    (2012.776, 0.10), (2012.780, 0.25), (2012.784, 0.40), (2012.788, 0.28), (2012.792, 0.35),
    (2012.796, 0.22), (2012.800, 0.20), (2012.804, 0.30), (2012.807, 0.15), (2012.811, 0.12),
    (2012.815, 0.25), (2012.819, 0.15), (2012.823, 0.12), (2012.827, 0.40), (2012.831, 0.65),
    (2012.835, 0.30), (2012.839, 0.20), (2012.843, 0.12), (2012.846, 0.10), (2012.850, 0.20),
    (2012.854, 0.10), (2012.858, 0.06), None,
    (2012.866, 0.25), (2012.870, 0.06), None,
    (2012.896, 0.55), (2012.899, 0.07), None,
]
PROB_2013 = [
    (2013.142, 0.25), (2013.143, 0.05), None,
    (2013.146, 0.80), (2013.150, 0.53), None,
    (2013.212, 0.30), (2013.216, 0.05), None,
    (2013.233, 0.32), (2013.240, 0.08), (2013.247, 0.15), (2013.254, 0.08), None,
    (2013.295, 0.38), (2013.300, 0.20), (2013.305, 0.32), None,
    (2013.315, 0.12), (2013.320, 0.05), (2013.325, 0.10), None,
    (2013.335, 0.08), (2013.345, 0.12), (2013.355, 0.05), (2013.367, 0.10), None,
    (2013.383, 0.72), (2013.386, 0.25), None,
    (2013.425, 0.28), (2013.427, 0.08), None,
    (2013.500, 0.40), (2013.505, 0.08), (2013.512, 0.10), (2013.520, 0.20), (2013.525, 0.07),
    (2013.535, 0.12), (2013.545, 0.08), (2013.555, 0.13), (2013.565, 0.07), (2013.575, 0.06),
    (2013.585, 0.09), (2013.595, 0.05), (2013.605, 0.06), (2013.615, 0.08), (2013.625, 0.06),
    (2013.635, 0.09), (2013.645, 0.07), (2013.655, 0.10), (2013.665, 0.06), (2013.675, 0.08),
    (2013.685, 0.07), (2013.695, 0.10), (2013.705, 0.08), (2013.712, 0.12), (2013.720, 0.45),
    (2013.728, 0.10), None,
    (2013.806, 0.35), (2013.810, 0.20), None,
    (2013.848, 0.05), (2013.852, 0.30), (2013.856, 0.50), (2013.860, 0.78), (2013.864, 0.40),
    (2013.868, 0.58), (2013.872, 0.80), (2013.876, 0.70), (2013.880, 0.30), (2013.884, 0.45),
    (2013.888, 0.30), None,
    (2013.934, 0.10), (2013.945, 0.02), None,
]
PROB_2014 = [
    (2014.006, 0.10), (2014.012, 0.03), None,
    (2014.130, 0.25), (2014.134, 0.18), None,
    (2014.233, 0.15), (2014.236, 0.05), None,
]

# ======================= HELPERS =======================
W, H = 1369, 1647
BLUE = "#0000ff"
RED = "#ff0000"
SHADE = "#d9d9d9"
AXC = "#4d4d4d"
TXT = "#262626"
FONT = "Liberation Sans, Arial, Helvetica, sans-serif"
WEEK = 7.0 / 365.25


def band(rows):
    """closed polygons (upper forward, lower back) for each run of rows"""
    xs, ys, seg = [], [], []
    segs = []
    for r in rows:
        if r is None:
            if seg:
                segs.append(seg)
            seg = []
        else:
            seg.append(r)
    if seg:
        segs.append(seg)
    for s in segs:
        xs += [r[0] for r in s] + [r[0] for r in reversed(s)] + [None]
        ys += [r[1] for r in s] + [r[2] for r in reversed(s)] + [None]
    return xs, ys


def pairs(rows):
    xs, ys = [], []
    for r in rows:
        if r is None:
            xs.append(None)
            ys.append(None)
        else:
            xs.append(r[0])
            ys.append(r[1])
    return xs, ys


def weekly(hi, lo):
    n = min(len(hi), len(lo))
    return [(2010 + k * WEEK, hi[k], lo[k]) for k in range(n)]


def labels(vals):
    return [("%g" % v).replace("\u2212", "-") for v in vals]


# ======================= FIGURE =======================
fig = go.Figure()

# a)
ax, ay = band(JENNER_2010 + [None] + JENNER_2011 + JENNER_2012 + JENNER_2013 + JENNER_2014)
fig.add_trace(go.Scatter(x=ax, y=ay, mode="lines", fill="toself", fillcolor=BLUE,
                         line=dict(color=BLUE, width=1.2), xaxis="x", yaxis="y",
                         showlegend=False, hoverinfo="skip"))
# b)
tx, ty = band(weekly(TP_HI, TP_LO))
fig.add_trace(go.Scatter(x=tx, y=ty, mode="lines", fill="toself", fillcolor=RED,
                         line=dict(color=RED, width=1), xaxis="x2", yaxis="y2",
                         showlegend=False, hoverinfo="skip"))
hx, hy = band(weekly(HS_HI, HS_LO))
fig.add_trace(go.Scatter(x=hx, y=hy, mode="lines", fill="toself", fillcolor=BLUE,
                         line=dict(color=BLUE, width=1), xaxis="x2", yaxis="y3",
                         showlegend=False, hoverinfo="skip"))
# c)
cx, cy = band(weekly(REYES_HI, REYES_LO))
fig.add_trace(go.Scatter(x=cx, y=cy, mode="lines", fill="toself", fillcolor=BLUE,
                         line=dict(color=BLUE, width=1), xaxis="x3", yaxis="y4",
                         showlegend=False, hoverinfo="skip"))
# d)
dx, dy = pairs(DISCHARGE)
fig.add_trace(go.Scatter(x=dx, y=dy, mode="lines", line=dict(color=BLUE, width=1.6),
                         xaxis="x4", yaxis="y5", showlegend=False, hoverinfo="skip"))
# e)
ex, ey = pairs(PROB_2010 + PROB_2011 + PROB_2012 + PROB_2013 + PROB_2014)
fig.add_trace(go.Scatter(x=ex, y=ey, mode="lines", line=dict(color=BLUE, width=1.8),
                         xaxis="x5", yaxis="y6", showlegend=False, hoverinfo="skip"))

# ---------- layout ----------
X_DOM = [127 / W, 1193 / W]
PANELS = [(134.5, 354.0), (430.0, 650.0), (725.0, 945.0), (1019.0, 1241.0), (1315.5, 1536.0)]
DOMS = [[1 - b / H, 1 - t / H] for t, b in PANELS]
Y_RANGES = [[-2, 10], [0, 25], [-6, 6], [0, 100000], [0, 1]]
A_TICKS = [-2, 0, 2, 4, 6, 8, 10]
TP_TICKS = [0, 5, 10, 15, 20, 25]
HS_TICKS = [0, 4, 8, 12, 16, 20]
C_TICKS = [-6, -4, -2, 0, 2, 4, 6]
D_TICKS = [0, 20000, 40000, 60000, 80000, 100000]
D_LABELS = ["0", "2", "4", "6", "8", "10"]
E_TICKS = [0, 0.2, 0.4, 0.6, 0.8, 1]

tickfont = dict(family=FONT, size=27, color=TXT)


def xax(show_labels):
    return dict(domain=X_DOM, range=[2010, 2015], tickvals=YEAR_TICKS, ticktext=YEAR_LABELS,
                showticklabels=show_labels, ticks="inside", ticklen=8, tickcolor=AXC,
                showline=True, linecolor=AXC, linewidth=1, mirror="ticks",
                showgrid=True, gridcolor="#bdbdbd", griddash="dot", gridwidth=1,
                zeroline=False, tickfont=tickfont, ticklabelstandoff=6, fixedrange=True,
                automargin=False)


def yax(dom, rng, tickvals, ticktext, mirror="ticks"):
    return dict(domain=dom, range=rng, tickvals=tickvals, ticktext=ticktext, ticks="inside",
                ticklen=8, tickcolor=AXC, showline=True, linecolor=AXC, linewidth=1,
                mirror=mirror, showgrid=True, gridcolor="#bdbdbd", griddash="dot",
                gridwidth=1, zeroline=False, tickfont=tickfont, ticklabelstandoff=5,
                fixedrange=True, automargin=False)


layout = dict(
    width=W, height=H, autosize=False,
    margin=dict(l=0, r=0, t=0, b=0, pad=0, autoexpand=False),
    paper_bgcolor="white", plot_bgcolor="white",
    showlegend=False,
    xaxis=dict(xax(False), anchor="y"),
    yaxis=dict(yax(DOMS[0], Y_RANGES[0], A_TICKS, labels(A_TICKS)), anchor="x"),
    xaxis2=dict(xax(False), anchor="y2"),
    yaxis2=dict(yax(DOMS[1], Y_RANGES[1], TP_TICKS, labels(TP_TICKS), mirror=True), anchor="x2"),
    yaxis3=dict(domain=DOMS[1], range=[0, 20], tickvals=HS_TICKS, ticktext=labels(HS_TICKS),
                overlaying="y2", side="right", anchor="x2", ticks="inside", ticklen=8,
                tickcolor=AXC, showline=False, showgrid=False, zeroline=False,
                tickfont=tickfont, ticklabelstandoff=9, fixedrange=True, automargin=False),
    xaxis3=dict(xax(False), anchor="y4"),
    yaxis4=dict(yax(DOMS[2], Y_RANGES[2], C_TICKS, labels(C_TICKS)), anchor="x3"),
    xaxis4=dict(xax(False), anchor="y5"),
    yaxis5=dict(yax(DOMS[3], Y_RANGES[3], D_TICKS, D_LABELS), anchor="x4"),
    xaxis5=dict(xax(True), anchor="y6"),
    yaxis6=dict(yax(DOMS[4], Y_RANGES[4], E_TICKS, labels(E_TICKS)), anchor="x5"),
)
fig.update_layout(**layout)

# dry-season shading in each panel (between grid and data)
shapes = []
refs = [("x", "y"), ("x2", "y2"), ("x3", "y4"), ("x4", "y5"), ("x5", "y6")]
for (xr, yr), rng in zip(refs, Y_RANGES):
    for s, e in zip(DRY_START, DRY_END):
        shapes.append(dict(type="rect", xref=xr, yref=yr, x0=s, x1=e, y0=rng[0], y1=rng[1],
                           fillcolor=SHADE, line=dict(width=0), layer="between"))

# outer frame
shapes.append(dict(type="rect", xref="paper", yref="paper", x0=5 / W, x1=1363 / W,
                   y0=-0.02, y1=1 - 8.5 / H, line=dict(color="black", width=2),
                   fillcolor="rgba(0,0,0,0)", layer="above"))

# legend box for panel b
LX0, LX1, LY0, LY1 = 957, 1164, 457, 537
shapes.append(dict(type="rect", xref="paper", yref="paper", x0=LX0 / W, x1=LX1 / W,
                   y0=1 - LY1 / H, y1=1 - LY0 / H, fillcolor="white",
                   line=dict(color="#333333", width=1), layer="above"))
LEGEND_ITEMS = [("Hs(ft)", "#cfcfcf", 478), ("Tp(sec)", "#dc7b8b", 515)]
annotations = []
for label, col, yy in LEGEND_ITEMS:
    shapes.append(dict(type="line", xref="paper", yref="paper", x0=975 / W, x1=1057 / W,
                       y0=1 - yy / H, y1=1 - yy / H, line=dict(color=col, width=2),
                       layer="above"))
    annotations.append(dict(xref="paper", yref="paper", x=1068 / W, y=1 - yy / H,
                            xanchor="left", yanchor="middle", showarrow=False, text=label,
                            font=dict(family=FONT, size=25, color=TXT)))

# panel titles
TITLES = ["a) Jenner Gage WL (ft NGVD)", "b) Nearshore Wave Height and Period",
          "c) Pt. Reyes WL (ft NGVD)", "d) River Discharge at Hacienda Bridge (cfs)",
          "e) Probability of Inlet Closure Occurring Within 5 Days"]
for (t, b), title in zip(PANELS, TITLES):
    annotations.append(dict(xref="paper", yref="paper", x=(127 + 1193) / 2 / W,
                            y=1 - (t - 22) / H, xanchor="center", yanchor="middle",
                            showarrow=False, text="<b>" + title + "</b>",
                            font=dict(family=FONT, size=31, color="black")))

# axis labels
annotations.append(dict(xref="paper", yref="paper", x=60 / W, y=1 - 540 / H, textangle=-90,
                        xanchor="center", yanchor="middle", showarrow=False, text="Tp (s)",
                        font=dict(family=FONT, size=27, color=TXT)))
annotations.append(dict(xref="paper", yref="paper", x=1264 / W, y=1 - 540 / H, textangle=-90,
                        xanchor="center", yanchor="middle", showarrow=False, text="Hs (ft)",
                        font=dict(family=FONT, size=27, color=TXT)))
annotations.append(dict(xref="paper", yref="paper", x=126 / W, y=1 - 1004 / H,
                        xanchor="left", yanchor="middle", showarrow=False,
                        text="\u00d710<sup>4</sup>", font=dict(family=FONT, size=27, color=TXT)))

fig.update_layout(shapes=shapes, annotations=annotations)

fig.write_html("out.html", config={"displayModeBar": False, "staticPlot": True},
               post_script="document.body.style.margin='0';document.body.style.overflow='hidden';")
